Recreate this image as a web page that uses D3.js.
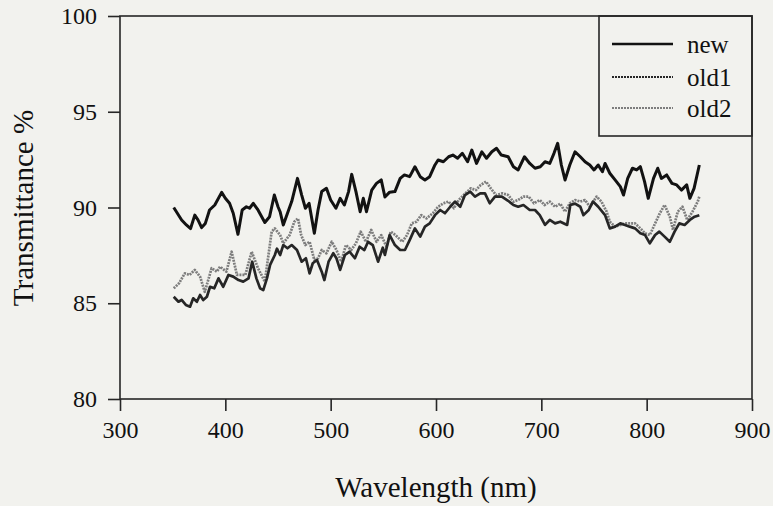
<!DOCTYPE html>
<html>
<head>
<meta charset="utf-8">
<script src="https://cdn.jsdelivr.net/npm/d3@7"></script>
<style>
    body { margin: 0; background: #f2f2ee; }
    text { font-family: "Liberation Serif", "Times New Roman", serif; fill: #111; }
    .axis path, .axis line { stroke: #262626; stroke-width: 1.6; }
</style>
</head>
<body>
<div id="chart"></div>
<script>
// wavelength (nm) / transmittance (%)
let newWl = [351, 358.5, 363, 367, 371, 374, 377.5, 381, 385, 390, 396.5, 400, 404, 407.5, 412, 416, 420, 423, 426.5, 431, 437.5, 442, 446.5, 450,
    452, 455, 459, 463, 468.5, 472.5, 476, 479.5, 484.5, 488, 491.5, 496, 500, 505, 509, 513, 517, 520, 524, 528, 531, 534, 539, 543.5, 548, 551.5,
    556, 561, 566, 570, 575, 580, 585, 589.5, 594, 599, 602, 607, 612, 616, 620.5, 625, 630, 634, 638.5, 643.5, 648, 653, 657.5,
    662, 668.5, 673.5, 678, 684, 689, 694, 699, 703.5, 708, 712, 715.5, 719, 722.5, 727, 732, 737, 741.5, 746, 750, 754, 758, 760.5,
    765, 770, 775, 778, 782, 786.5, 790.5, 794, 798, 801.5, 806.5, 810.5, 814, 819, 824, 828.5, 833, 838, 841, 845, 850];
let newT = [90.0, 89.35, 89.09, 88.9, 89.6, 89.35, 88.95, 89.17, 89.87, 90.13, 90.79, 90.48, 90.22, 89.7, 88.6, 89.87, 90.04, 89.96, 90.22, 89.87, 89.22, 89.52, 90.65, 90.04,
    89.78, 89.09, 89.7, 90.31, 91.52, 90.65, 89.96, 90.22, 88.65, 89.87, 90.83, 91.0, 90.39, 89.96, 90.48, 90.13, 90.83, 91.73, 90.83, 89.78, 90.48, 89.78, 90.91, 91.26, 91.44, 90.55,
    90.8, 90.83, 91.52, 91.7, 91.61, 92.13, 91.61, 91.44, 91.61, 92.22, 92.48, 92.39, 92.65, 92.74, 92.57, 92.83, 92.39, 93.0, 92.3, 92.91, 92.57, 92.91, 93.09,
    92.74, 92.65, 92.13, 91.96, 92.65, 92.3, 92.05, 92.13, 92.39, 92.3, 92.83, 93.35, 92.22, 91.44, 92.22, 92.91, 92.65, 92.39, 92.22, 91.96, 92.22, 91.87, 92.3,
    91.79, 91.44, 91.09, 90.65, 91.52, 92.05, 91.96, 92.13, 91.35, 90.48, 91.52, 92.05, 91.52, 91.7, 91.26, 91.18, 90.91, 91.18, 90.48, 91.0, 92.22];

let old1Wl = [351, 355.5, 358.5, 362.5, 366.5, 369.5, 373, 376, 379, 382.5, 385.5, 389.5, 393.5, 398, 403, 407.5, 412.5, 417, 422, 425.5, 429.5, 433, 436, 439.5, 442.5, 447, 449,
    452, 455, 459, 463, 468, 472.5, 476.5, 480, 483, 487, 491.5, 494, 498, 502.5, 505.5, 509, 513.5, 518, 523, 527.5, 532, 535.5, 540, 545, 549.5,
    551.5, 556, 561, 566, 570.5, 575, 580, 585, 589.5, 594, 599, 604, 608.5, 613.5, 618, 623, 627.5, 632.5, 637, 642, 646.5, 651, 656,
    662.5, 668.5, 673.5, 678, 683, 689, 694, 698.5, 703.5, 708, 713, 718, 724.5, 727.5, 732, 737, 740, 745, 749, 754, 760.5,
    765, 770, 775, 779.5, 784, 789, 794, 798.5, 803, 808, 812, 817, 822, 826.5, 831, 836, 841, 845.5, 850];
let old1T = [85.34, 85.08, 85.17, 84.91, 84.82, 85.26, 85.08, 85.43, 85.17, 85.34, 85.86, 85.78, 86.3, 85.86, 86.48, 86.39, 86.21, 86.13, 86.3, 87.17, 86.3, 85.78, 85.69, 86.3, 87.0, 87.52, 87.85,
    87.52, 88.04, 87.87, 88.04, 87.78, 87.17, 87.35, 86.56, 87.09, 87.26, 86.65, 86.21, 87.17, 87.61, 87.35, 86.74, 87.52, 87.69, 87.35, 87.95, 87.78, 88.21, 88.04, 87.17, 87.9,
    87.52, 88.56, 88.04, 87.78, 87.78, 88.3, 88.91, 88.48, 89.0, 89.17, 89.6, 89.87, 89.7, 90.04, 90.31, 90.04, 90.65, 90.83, 90.57, 90.74, 90.74, 90.22, 90.57,
    90.57, 90.35, 90.13, 90.04, 90.13, 89.87, 89.87, 89.6, 89.09, 89.35, 89.17, 89.26, 89.09, 90.13, 90.2, 90.04, 89.6, 89.87, 90.31, 90.04, 89.6,
    88.91, 89.0, 89.17, 89.09, 89.0, 88.91, 88.65, 88.56, 88.13, 88.56, 88.74, 88.48, 88.21, 88.74, 89.17, 89.09, 89.35, 89.52, 89.6];

let old2Wl = [351, 356, 361.5, 366, 371, 376, 380.5, 387, 392, 395, 401, 406, 411, 419, 425, 431, 437.5, 444, 447, 452,
    455, 461, 465.5, 469, 472, 476, 480, 484.5, 488, 491.5, 496, 501, 505.5, 510, 514.5, 519.5, 524, 528.5, 533.5, 538.5, 543.5, 548, 553,
    557, 561.5, 568, 572.5, 577, 581.5, 586, 591, 597, 602, 607, 612, 617, 621.5, 628, 633, 638, 642.5, 647.5, 652, 657,
    663, 668.5, 673.5, 678, 683, 688, 693, 698.5, 703, 708, 713, 718, 722.5, 727, 732, 737, 741.5, 746, 752.5, 757, 762,
    765, 770, 775, 779.5, 784, 789, 794, 798.5, 803, 808, 812.5, 817, 822, 825, 829.5, 834, 838.5, 843.5, 848.5, 850];
let old2T = [85.78, 86.04, 86.56, 86.48, 86.74, 86.39, 85.6, 86.83, 86.65, 86.91, 86.65, 87.69, 86.48, 86.48, 87.69, 86.83, 86.13, 88.74, 88.91, 88.56,
    88.13, 88.56, 89.26, 89.43, 88.56, 88.04, 88.21, 87.26, 87.35, 87.78, 87.61, 88.21, 87.78, 87.17, 88.04, 87.78, 88.13, 88.74, 88.21, 88.83, 88.21, 88.56, 87.95,
    88.74, 88.56, 88.21, 88.56, 89.17, 89.26, 89.6, 89.43, 89.7, 90.04, 90.22, 90.31, 89.96, 90.39, 90.74, 91.0, 90.91, 91.18, 91.35, 91.0, 90.65,
    90.74, 90.65, 90.3, 90.39, 90.57, 90.57, 90.22, 90.39, 90.13, 90.31, 90.04, 90.2, 89.78, 90.22, 90.39, 90.31, 90.39, 90.04, 90.57, 90.31, 89.78,
    89.26, 89.0, 89.09, 89.17, 89.17, 89.17, 88.91, 88.65, 88.56, 89.17, 89.7, 90.13, 89.52, 88.83, 89.78, 90.04, 89.35, 89.78, 90.31, 90.57];

let seriesNames = ["new", "old1", "old2"];
let xTicks = [300, 400, 500, 600, 700, 800, 900];
let yTicks = [80, 85, 90, 95, 100];

let canvasWidth = 773;
let canvasHeight = 506;
let plotLeft = 120, plotRight = 752, plotTop = 16, plotBottom = 399;

let svg = d3.select("#chart")
    .append("svg")
    .attr("width", canvasWidth)
    .attr("height", canvasHeight);

// background
svg.append("rect")
    .attr("width", "100%")
    .attr("height", "100%")
    .attr("fill", "#f2f2ee");

let xScale = d3.scaleLinear().domain([300, 900]).range([plotLeft, plotRight]);
let yScale = d3.scaleLinear().domain([80, 100]).range([plotBottom, plotTop]);

// frame
svg.append("rect")
    .attr("x", plotLeft)
    .attr("y", plotTop)
    .attr("width", plotRight - plotLeft)
    .attr("height", plotBottom - plotTop)
    .attr("fill", "none")
    .attr("stroke", "#262626")
    .attr("stroke-width", 1.6);

// x axis
svg.append("g")
    .attr("class", "axis")
    .attr("transform", "translate(0, " + plotBottom + ")")
    .call(d3.axisBottom(xScale).tickValues(xTicks).tickSize(12).tickPadding(10).tickSizeOuter(0))
    .call(g => g.select(".domain").remove())
    .selectAll("text")
    .attr("fill", "#111")
    .style("font-size", "24px");

// y axis
svg.append("g")
    .attr("class", "axis")
    .attr("transform", "translate(" + plotLeft + ", 0)")
    .call(d3.axisLeft(yScale).tickValues(yTicks).tickSize(12).tickPadding(11).tickSizeOuter(0))
    .call(g => g.select(".domain").remove())
    .selectAll("text")
    .attr("fill", "#111")
    .style("font-size", "24px");

// axis titles
svg.append("text")
    .attr("x", (plotLeft + plotRight) / 2)
    .attr("y", 497)
    .attr("text-anchor", "middle")
    .style("font-size", "29px")
    .text("Wavelength (nm)");

svg.append("text")
    .attr("text-anchor", "middle")
    .attr("transform", "translate(33, 208) rotate(-90)")
    .style("font-size", "29px")
    .text("Transmittance %");

let styles = {
    "new": { color: "#121212", w: 3, dash: null },
    "old1": { color: "#262626", w: 2.7, dash: null },
    "old2": { color: "#7d7d7d", w: 2.7, dash: "2,1" }
};

let series = [
    { name: "old2", wl: old2Wl, t: old2T },
    { name: "old1", wl: old1Wl, t: old1T },
    { name: "new", wl: newWl, t: newT }
];

let line = d3.line()
    .x(d => xScale(d[0]))
    .y(d => yScale(d[1]));

series.forEach(s => {
    let pts = s.wl.map((w, i) => [w, s.t[i]]);
    svg.append("path")
        .datum(pts)
        .attr("fill", "none")
        .attr("stroke", styles[s.name].color)
        .attr("stroke-width", styles[s.name].w)
        .attr("stroke-dasharray", styles[s.name].dash)
        .attr("stroke-linejoin", "round")
        .attr("d", line);
});

// legend
let legend = svg.append("g");
legend.append("rect")
    .attr("x", 599)
    .attr("y", plotTop)
    .attr("width", plotRight - 599)
    .attr("height", 120)
    .attr("fill", "none")
    .attr("stroke", "#262626")
    .attr("stroke-width", 1.6);

let legendY = [44, 77, 108];
seriesNames.forEach((name, i) => {
    legend.append("line")
        .attr("x1", 612)
        .attr("x2", 673)
        .attr("y1", legendY[i])
        .attr("y2", legendY[i])
        .attr("stroke", styles[name].color)
        .attr("stroke-width", name === "new" ? 2.6 : 2)
        .attr("stroke-dasharray", name === "new" ? null : "2,1");
    legend.append("text")
        .attr("x", 687)
        .attr("y", legendY[i] + 9)
        .style("font-size", "25px")
        .text(name);
});
</script>
</body>
</html>
